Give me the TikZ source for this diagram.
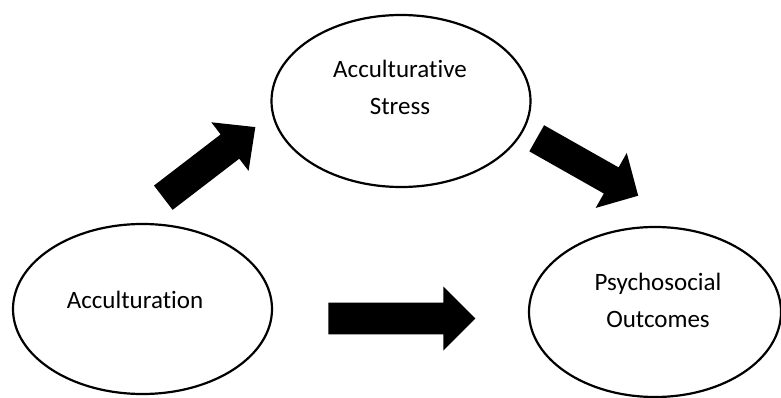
\documentclass[tikz,border=0pt]{standalone}
\usepackage{fontspec}
\setmainfont[Ligatures={NoCommon}]{Carlito}
\usetikzlibrary{shapes.geometric}
\begin{document}
\begin{tikzpicture}[x=1pt,y=1pt,
  bubble/.style={draw=black,line width=2.2pt,ellipse,inner sep=0pt},
  lbl/.style={anchor=base,inner sep=0pt,font=\fontsize{25}{30}\selectfont},
  blockarrow/.style={fill=black}]
\useasboundingbox (0,0) rectangle (781,397);
% ellipses
\node[bubble,minimum width=259pt,minimum height=170pt] (acc) at (142.5,88) {};
\node[bubble,minimum width=259pt,minimum height=172pt] (str) at (401,296) {};
\node[bubble,minimum width=252pt,minimum height=170pt] (psy) at (655,85) {};
% labels
\node[lbl] (accT) at (135,89) {Acculturation};
\node[lbl] (strT1) at (400,319.3) {Acculturative};
\node[lbl] (strT2) at (400,282) {Stress};
\node[lbl] (psyT1) at (658,107) {Psychosocial};
\node[lbl] (psyT2) at (658,69.5) {Outcomes};
% block arrows
\coordinate (a1) at (163.3,199.3);
\coordinate (a2) at (536.7,258.7);
\coordinate (a3) at (328.3,78.5);
\fill[blockarrow,shift={(a1)},rotate=37.5]
  (0,-15.3) -- (84,-15.3) -- (84,-30.6) -- (116,0) -- (84,30.6) -- (84,15.3) -- (0,15.3) -- cycle;
\fill[blockarrow,shift={(a2)},rotate=-29.5]
  (0,-15) -- (85.6,-15) -- (85.6,-31.6) -- (116.6,0) -- (85.6,31.6) -- (85.6,15) -- (0,15) -- cycle;
\fill[blockarrow,shift={(a3)}]
  (0,-15.8) -- (115,-15.8) -- (115,-32) -- (147,0) -- (115,32) -- (115,15.8) -- (0,15.8) -- cycle;
\end{tikzpicture}
\end{document}
